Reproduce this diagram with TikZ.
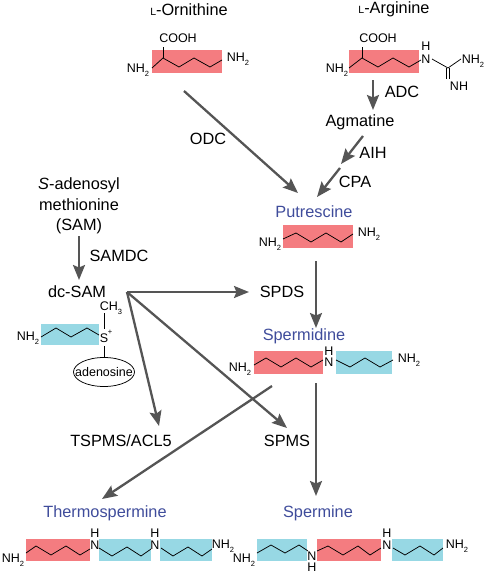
\documentclass[tikz,border=0pt]{standalone}
\usepackage{fontspec}
\setmainfont{Liberation Sans}
\usetikzlibrary{arrows.meta}
\definecolor{redbox}{HTML}{F47C80}
\definecolor{bluebox}{HTML}{97D8E4}
\definecolor{arrgray}{HTML}{555555}
\definecolor{nameblue}{HTML}{3F4C9B}
\newcommand{\NHtwo}{NH\raisebox{-0.28em}{\fontsize{7.5}{8}\selectfont 2}}
\newcommand{\smallL}{{\fontsize{10.5}{11}\selectfont L}}
\tikzset{
  lb/.style={inner sep=0pt,font=\fontsize{16.3}{20}\selectfont,text=black},
  pname/.style={lb,text=nameblue},
  sm/.style={inner sep=0pt,font=\fontsize{12.5}{14}\selectfont,text=black},
  bond/.style={draw=black,line width=0.75pt,line join=miter},
  arr/.style={draw=arrgray,line width=2.3pt,-{Stealth[length=15pt,width=12pt,inset=2.5pt]}},
  rbox/.style={fill=redbox,draw=none},
  bbox/.style={fill=bluebox,draw=none}
}
\begin{document}
\begin{tikzpicture}[x=1pt,y=-1pt]
\useasboundingbox (0,0) rectangle (485,573);
% boxes
\fill[rbox] (152,50) rectangle (222,73);
\fill[rbox] (349,50) rectangle (419,73);
\fill[rbox] (283,225) rectangle (353,248);
\fill[rbox] (254,351) rectangle (323,374);
\fill[bbox] (336,351) rectangle (392,374);
\fill[bbox] (41,324) rectangle (99,345);
\fill[rbox] (26,539) rectangle (90,561);
\fill[bbox] (99,539) rectangle (151,561);
\fill[bbox] (160,539) rectangle (212,561);
\fill[bbox] (257,539) rectangle (307,561);
\fill[rbox] (317,539) rectangle (381,561);
\fill[bbox] (392,539) rectangle (443,561);
% zigzags
\draw[bond] (152,68)--(163,58)--(179,67)--(194,58)--(210,67)--(222,60);
\draw[bond] (163,58)--(163,47);
\draw[bond] (349,68)--(362,58)--(378,67)--(393,58)--(409,67)--(421,60);
\draw[bond] (362,58)--(362,47);
\draw[bond] (432,59)--(448,68)--(461,59);
\draw[bond] (446.5,68)--(446.5,79);
\draw[bond] (449.5,68)--(449.5,79);
\draw[bond] (283,239)--(296,233)--(311,242)--(326,233)--(341,242)--(353,234);
\draw[bond] (254,365)--(266,358)--(281,367)--(296,358)--(311,367)--(323,360);
\draw[bond] (336,360)--(350,367)--(365,358)--(380,367)--(393,360);
\draw[bond] (41,337)--(56,328)--(71,337)--(87,328)--(99,335);
\draw[bond] (104,313)--(104,329);
\draw[bond] (104,346)--(104,358);
\draw[bond] (26,553)--(36,546)--(51,555)--(66,546)--(80,555)--(90,549);
\draw[bond] (99,548)--(112,556)--(127,547)--(141,556)--(151,549);
\draw[bond] (161,548)--(173,556)--(188,547)--(202,556)--(212,549);
\draw[bond] (257,553)--(271,545)--(285,553)--(299,545)--(308,551);
\draw[bond] (317,551)--(328,546)--(343,555)--(358,546)--(370,555)--(381,548);
\draw[bond] (393,548)--(405,555)--(420,546)--(434,555)--(443,548);
% names
\node[lb] (orn) at (189,9.5) {\smallL-Ornithine};
\node[lb] (arg) at (394,9.5) {\smallL-Arginine};
\node[lb] (agm) at (360,122) {Agmatine};
\node[lb] (adc) at (402,92) {ADC};
\node[lb] (odc) at (208,139) {ODC};
\node[lb] (aih) at (373,153) {AIH};
\node[lb] (cpa) at (355,182) {CPA};
\node[pname] (put) at (314,212) {Putrescine};
\node[lb,align=center] (sam) at (79,206) {\textit{S}-adenosyl\\[0.5pt]methionine\\[0.5pt](SAM)};
\node[lb] (samdc) at (119,256) {SAMDC};
\node[lb] (dcsam) at (77,292) {dc-SAM};
\node[lb] (spds) at (282,292) {SPDS};
\node[pname] (spd) at (304,336) {Spermidine};
\node[lb] (tspms) at (121,441) {TSPMS/ACL5};
\node[lb] (spms) at (287,441) {SPMS};
\node[pname] (thm) at (105,513) {Thermospermine};
\node[pname] (spm) at (318,513) {Spermine};
% small chemistry labels
\node[sm] (c1) at (178,38) {COOH};
\node[sm] (c2) at (378,38) {COOH};
\node[sm] (n1) at (138,70) {\NHtwo};
\node[sm] (n2) at (238,59) {\NHtwo};
\node[sm] (n3) at (337,70) {\NHtwo};
\node[sm] (h4) at (426,46) {H};
\node[sm] (n4) at (426,59) {N};
\node[sm] (n5) at (473,61) {\NHtwo};
\node[sm] (n6) at (459,86) {NH};
\node[sm] (n7) at (270,244) {\NHtwo};
\node[sm] (n8) at (369,234) {\NHtwo};
\node[sm] (n9) at (240,369) {\NHtwo};
\node[sm] (h10) at (329,351) {H};
\node[sm] (n10) at (329,362) {N};
\node[sm] (n11) at (409,360) {\NHtwo};
\node[sm] (ch3) at (111,308) {CH\raisebox{-0.28em}{\fontsize{7.5}{8}\selectfont 3}};
\node[sm] (s1) at (104,338) {S};
\node[inner sep=0pt,font=\fontsize{7.5}{8}\selectfont] (plus) at (110,332) {+};
\node[sm] (n12) at (28,338) {\NHtwo};
\node[sm] (ado) at (104,372) {adenosine};
\draw[bond] (ado.center) ellipse [x radius=30.5,y radius=14.5];
\node[sm] (n13) at (13,560) {\NHtwo};
\node[sm] (h14) at (95,533) {H};
\node[sm] (n14) at (95,545) {N};
\node[sm] (h15) at (155,533) {H};
\node[sm] (n15) at (155,545) {N};
\node[sm] (n16) at (223,546) {\NHtwo};
\node[sm] (n17) at (244,560) {\NHtwo};
\node[sm] (n18) at (312,556) {N};
\node[sm] (h18) at (312,567) {H};
\node[sm] (h19) at (387,533) {H};
\node[sm] (n19) at (387,545) {N};
\node[sm] (n20) at (457,546) {\NHtwo};
% connector ends
\coordinate (odcA) at (184,91);
\coordinate (odcB) at (298,193);
\coordinate (adcA) at (373,80);
\coordinate (adcB) at (373,110);
\coordinate (aihA) at (363,136);
\coordinate (aihB) at (341,164);
\coordinate (cpaA) at (340,168);
\coordinate (cpaB) at (317,197);
\coordinate (samA) at (79,236);
\coordinate (samB) at (79,280);
\coordinate (hub) at (127,292);
\coordinate (spdsB) at (249,292);
\coordinate (tspmsB) at (159,426);
\coordinate (spmsB) at (287,428);
\coordinate (putA) at (316,261);
\coordinate (putB) at (316,328);
\coordinate (spdA) at (316,383);
\coordinate (spmB) at (316,496);
\coordinate (thA) at (272,386);
\coordinate (thB) at (102,499);
\draw[arr] (odcA)--(odcB);
\draw[arr] (adcA)--(adcB);
\draw[arr] (aihA)--(aihB);
\draw[arr] (cpaA)--(cpaB);
\draw[arr] (samA)--(samB);
\draw[arr] (hub)--(spdsB);
\draw[arr] (hub)--(tspmsB);
\draw[arr] (hub)--(spmsB);
\draw[arr] (putA)--(putB);
\draw[arr] (spdA)--(spmB);
\draw[arr] (thA)--(thB);
\end{tikzpicture}
\end{document}
